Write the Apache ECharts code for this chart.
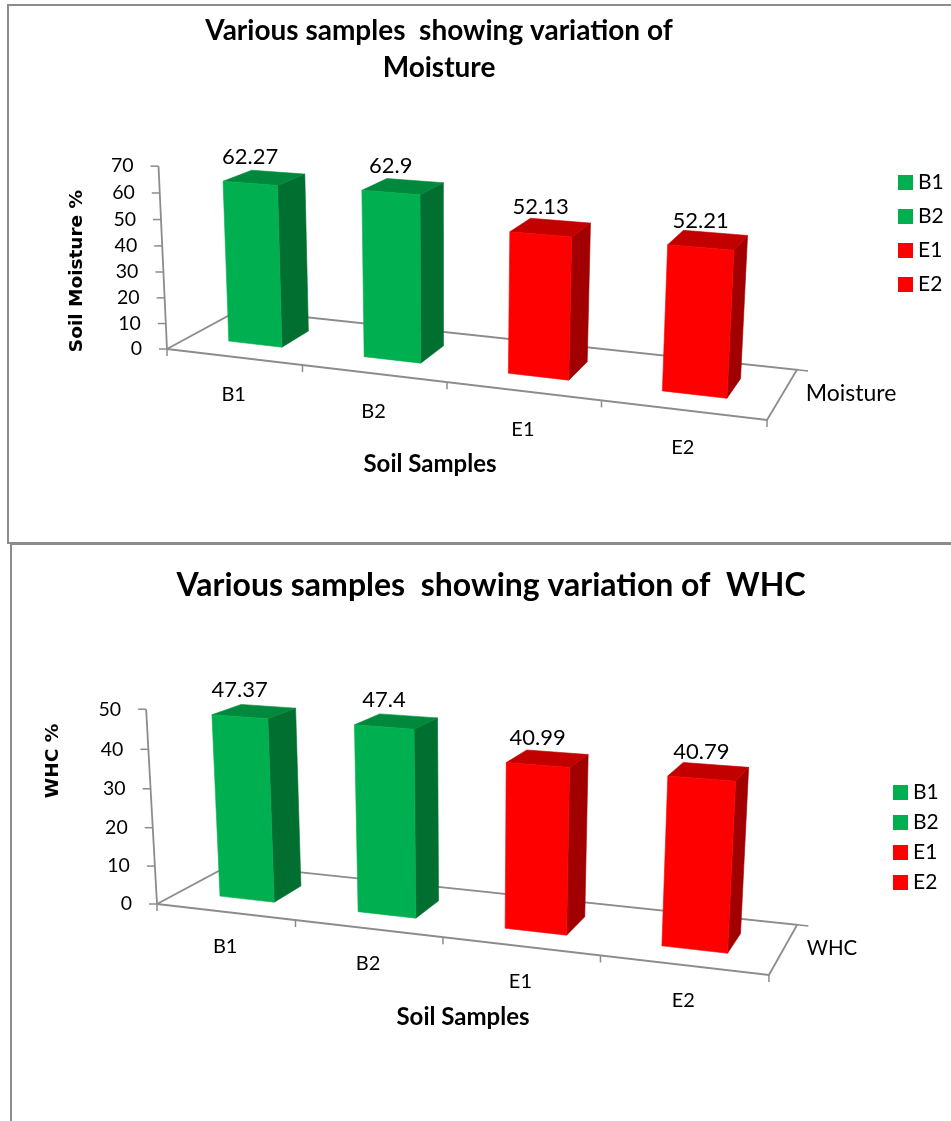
<!DOCTYPE html>
<html>
<head>
<meta charset="utf-8">
<script src="https://cdn.jsdelivr.net/npm/echarts@6/dist/echarts.min.js"></script>
<style>
  html, body { margin: 0; padding: 0; background: #fff; overflow: hidden; }
  .panel { position: absolute; left: 0; width: 951px; }
  .frame { position: absolute; border: 0 solid #8c8c8c; pointer-events: none; }
</style>
</head>
<body>
<div id="moistureChart" class="panel" style="top:0; height:542px;"></div>
<div id="whcChart" class="panel" style="top:543px; height:578px;"></div>
<div class="frame" style="left:7px; top:4px; width:990px; height:536px; border-width:2px 0 2px 2px;"></div>
<div class="frame" style="left:10px; top:543px; width:990px; height:640px; border-width:2px 0 0 2px;"></div>
<script>
/* soil samples, 3d column charts */

var samples = ['B1', 'B2', 'E1', 'E2'];
var moisture = [62.27, 62.9, 52.13, 52.21];
var whc = [47.37, 47.4, 40.99, 40.79];
var moistureTicks = [0, 10, 20, 30, 40, 50, 60, 70];
var whcTicks = [0, 10, 20, 30, 40, 50];

var sampleColors = ['#00B050', '#00B050', '#FF0000', '#FF0000'];
var faceShades = {
  '#00B050': { side: '#006F30', top: '#00893D' },
  '#FF0000': { side: '#A20000', top: '#C20000' }
};
var lineGray = '#8c8c8c';
var txtFont = 'Lato, "Open Sans", sans-serif';

// perspective camera for each panel (page pixels)
// screen = (O + X*A + h*B + Z*C) / (1 + a*X + b*h + c*Z)
// X: category units, h: fraction of value axis, Z: depth 0 (front) .. 1 (back)
var topCam = { O: [167, 349], A: [126.03, 4.625], a: -0.03125, B: [-13.14, -187.7], b: -0.0294, C: [91.6, -13.6], c: 0.082 };
var bottomCam = { O: [157, 904], A: [129.4, -12.15], a: -0.03067, B: [-15.78, -218.6], b: -0.03365, C: [92.55, 34.5], c: 0.085 };

function makeChart(cfg) {
  var chart = echarts.init(document.getElementById(cfg.el));
  var cam = cfg.cam;
  var nCat = samples.length;

  function P(X, h, Z) {
    var w = 1 + cam.a * X + cam.b * h + cam.c * Z;
    return [(cam.O[0] + X * cam.A[0] + h * cam.B[0] + Z * cam.C[0]) / w,
            (cam.O[1] + X * cam.A[1] + h * cam.B[1] + Z * cam.C[1]) / w - cfg.offY];
  }

  function line(pts, width) {
    return { type: 'polyline', shape: { points: pts }, style: { stroke: lineGray, lineWidth: width || 1.8, fill: null } };
  }

  function label(txt, x, y, align, size, weight) {
    return {
      type: 'text', x: x, y: y,
      style: { text: txt, fill: '#000', fontFamily: txtFont, fontSize: size || 19, fontWeight: weight || 'normal',
               align: align || 'center', verticalAlign: 'middle' }
    };
  }

  // floor, value axis line, category ticks, depth axis name
  function renderFrame(params, api) {
    var kids = [];
    kids.push(line([P(0, 0, 0), P(nCat, 0, 0), P(nCat, 0, 1), P(0, 0, 1), P(0, 0, 0)]));
    kids.push(line([P(0, 0, 0), P(0, 1, 0)]));
    for (var k = 0; k <= nCat; k++) {
      var p = P(k, 0, 0);
      kids.push(line([p, [p[0], p[1] + 7]], 1.5));
    }
    var q = P(nCat, 0, 1);
    kids.push(line([q, P(nCat + 0.07, 0, 1)], 1.5));
    var m = P(nCat, 0, 0.5);
    kids.push(label(cfg.depthName, m[0] + 23, m[1], 'left', cfg.depthSize));
    return { type: 'group', children: kids };
  }

  function renderTick(params, api) {
    var cs = params.coordSys;
    var y0 = api.coord([0, 0])[1];
    var yv = api.coord([0, api.value(1)])[1];
    var h = (y0 - yv) / cs.height;
    var p = P(0, h, 0);
    return {
      type: 'group',
      children: [
        line([p, [p[0] - 8, p[1]]], 1.5),
        label(String(api.value(1)), p[0] - 25, p[1], 'right', 19.5)
      ]
    };
  }

  function renderCatLabel(params, api) {
    var cs = params.coordSys;
    var c = api.coord([api.value(0), 0]);
    var X = (c[0] - cs.x) / api.size([1, 0])[0];
    var p = P(X, 0, 0);
    return label(samples[api.value(0)], p[0], p[1] + cfg.catGap, 'center', 20);
  }

  function renderBar(params, api) {
    var cs = params.coordSys;
    var i = api.value(0);
    var base = api.coord([i, 0]);
    var top = api.coord([i, api.value(1)]);
    var X = (base[0] - cs.x) / api.size([1, 0])[0];
    var h = (base[1] - top[1]) / cs.height;
    var x0 = X - 0.2, x1 = X + 0.2, z0 = 0.3, z1 = 0.7;
    var col = api.visual('color');
    var sh = faceShades[col];
    function face(pts, fill) {
      return { type: 'polygon', shape: { points: pts }, style: { fill: fill, stroke: fill, lineWidth: 0.6 } };
    }
    var lab = P(X, h, z0);
    return {
      type: 'group',
      children: [
        face([P(x1, 0, z0), P(x1, 0, z1), P(x1, h, z1), P(x1, h, z0)], sh.side),
        face([P(x0, h, z0), P(x1, h, z0), P(x1, h, z1), P(x0, h, z1)], sh.top),
        face([P(x0, 0, z0), P(x1, 0, z0), P(x1, h, z0), P(x0, h, z0)], col),
        label(String(api.value(1)), lab[0], lab[1] - 27, 'center', 22)
      ]
    };
  }

  var series = [
    { type: 'custom', name: 'frame', silent: true, z: 1, data: [[0, 0]], renderItem: renderFrame },
    { type: 'custom', name: 'ticks', silent: true, z: 1, data: cfg.ticks.map(function (v) { return [0, v]; }), renderItem: renderTick },
    { type: 'custom', name: 'cats', silent: true, z: 1, data: samples.map(function (s, i) { return [i, 0]; }), renderItem: renderCatLabel }
  ];
  samples.forEach(function (s, i) {
    series.push({
      type: 'custom', name: s, z: 3 + i,
      itemStyle: { color: sampleColors[i] },
      data: [[i, cfg.values[i]]],
      renderItem: renderBar
    });
  });

  chart.setOption({
    animation: false,
    title: {
      text: cfg.title, left: cfg.titleX, top: cfg.titleTop, textAlign: 'center',
      textStyle: { fontFamily: txtFont, fontWeight: 'bold', fontSize: cfg.titleSize, lineHeight: 37, color: '#000' }
    },
    legend: {
      data: samples, orient: 'vertical', left: cfg.legendX, top: cfg.legendY,
      icon: 'rect', itemWidth: 15, itemHeight: 15, itemGap: cfg.legendGap,
      selectedMode: false,
      textStyle: { fontFamily: txtFont, fontSize: 21, color: '#000' }
    },
    grid: cfg.grid,
    xAxis: { type: 'category', data: samples, show: false },
    yAxis: { type: 'value', min: 0, max: cfg.yMax, interval: 10, show: false },
    graphic: [
      { type: 'text', x: cfg.yNamePos[0], y: cfg.yNamePos[1], rotation: Math.PI / 2,
        style: { text: cfg.yName, fill: '#000', fontFamily: '"DejaVu Sans", sans-serif', fontWeight: 'bold', fontSize: 18.5, align: 'center', verticalAlign: 'middle' } },
      { type: 'text', x: cfg.xNamePos[0], y: cfg.xNamePos[1],
        style: { text: 'Soil Samples', fill: '#000', fontFamily: txtFont, fontWeight: 'bold', fontSize: 24, align: 'center', verticalAlign: 'middle' } }
    ],
    series: series
  });
  return chart;
}

makeChart({
  el: 'moistureChart', offY: 0, cam: topCam,
  values: moisture, ticks: moistureTicks, yMax: 70,
  title: 'Various samples  showing variation of\nMoisture', titleX: 434, titleTop: 7, titleSize: 28,
  depthName: 'Moisture', depthSize: 23, yName: 'Soil Moisture %', yNamePos: [77, 271], xNamePos: [430, 464],
  legendX: 893, legendY: 167, legendGap: 13, catGap: 38,
  grid: { left: 167, top: 166, width: 600, height: 183 }
});

makeChart({
  el: 'whcChart', offY: 543, cam: bottomCam,
  values: whc, ticks: whcTicks, yMax: 50,
  title: 'Various samples  showing variation of  WHC', titleX: 486, titleTop: 19, titleSize: 32,
  depthName: 'WHC', depthSize: 20.5, yName: 'WHC %', yNamePos: [53, 218], xNamePos: [463, 474],
  legendX: 888, legendY: 234, legendGap: 9, catGap: 35,
  grid: { left: 157, top: 166, width: 612, height: 195 }
});
</script>
</body>
</html>
